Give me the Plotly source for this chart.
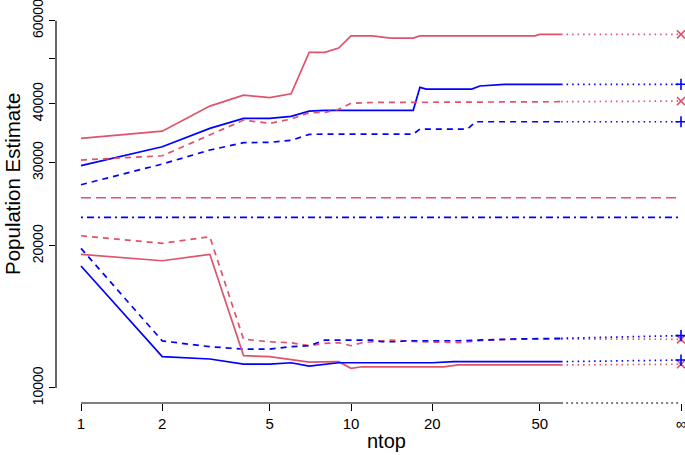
import math
import plotly.graph_objects as go

RED = "#DF536B"
BLUE = "#0000FF"

# ---- data ----
red_solid_hi_x = [1, 2, 3, 4, 5, 6, 7, 8, 9, 10, 12, 14, 17, 18, 48, 50, 60]
red_solid_hi_y = [33800, 35000, 39550, 41700, 41200, 42000, 51400, 51400, 52500, 55700, 55700, 55100, 55100, 55700, 55700, 56100, 56100]

blue_solid_hi_x = [1, 2, 3, 4, 5, 6, 7, 8, 17, 18, 19, 28, 30, 37, 60]
blue_solid_hi_y = [29570, 32440, 35480, 37250, 37250, 37620, 38600, 38740, 38740, 43340, 42980, 42980, 43620, 43980, 43980]

red_dash_hi_x = [1, 2, 3, 4, 5, 6, 7, 8, 9, 10, 12, 60]
red_dash_hi_y = [30400, 31040, 34350, 36940, 36350, 37120, 38290, 38370, 38930, 40090, 40250, 40400]

blue_dash_hi_x = [1, 2, 3, 4, 5, 6, 7, 8, 17, 18, 27, 29, 60]
blue_dash_hi_y = [26950, 29810, 31920, 33080, 33140, 33460, 34450, 34500, 34500, 35360, 35360, 36640, 36640]

red_dash_lo_x = [1, 2, 3, 4, 5, 6, 7, 8, 9, 10, 11, 14, 18, 25, 30, 40, 60]
red_dash_lo_y = [21010, 20250, 20910, 12680, 12530, 12470, 12290, 12430, 12470, 12290, 12470, 12630, 12530, 12480, 12600, 12680, 12700]

blue_dash_lo_x = [1, 2, 3, 4, 5, 6, 7, 8, 12, 13, 15, 16, 25, 40, 60]
blue_dash_lo_y = [19760, 12580, 12230, 12090, 12090, 12230, 12290, 12630, 12630, 12530, 12530, 12590, 12590, 12700, 12740]

blue_solid_lo_x = [1, 2, 3, 4, 5, 6, 7, 9, 20, 24, 60]
blue_solid_lo_y = [18130, 11650, 11520, 11230, 11230, 11310, 11130, 11310, 11310, 11370, 11370]

red_solid_lo_x = [1, 2, 3, 4, 5, 6, 7, 9, 10, 11, 22, 25, 60]
red_solid_lo_y = [19190, 18600, 19190, 11710, 11650, 11500, 11340, 11370, 11010, 11090, 11090, 11190, 11190]

# values at ntop = infinity
inf_red_solid_hi = 56110
inf_blue_solid_hi = 43980
inf_red_dash_hi = 40530
inf_blue_dash_hi = 36640
inf_blue_dash_lo = 12910
inf_red_dash_lo = 12680
inf_blue_solid_lo = 11460
inf_red_solid_lo = 11230

# horizontal reference levels
red_ref_level = 25290
blue_ref_level = 22990

x_tick_vals = [1, 2, 5, 10, 20, 50]
x_tick_text = ["1", "2", "5", "10", "20", "50"]
y_tick_vals = [10000, 20000, 30000, 40000, 50000, 60000]
y_tick_text = ["10000", "20000", "30000", "40000", "", "60000"]

# ---- layout constants ----
INF_X = 10 ** 2.2222      # plotting position of the "infinity" column
X_LAST = 60
FONT = "Liberation Sans, Arial, Helvetica, sans-serif"

DASH = "6px,5px"
LONGDASH = "10px,5px"
DOTDASH = "2px,4px,7px,4px"
DOT = "1.5px,4px"
LW = 1.7

fig = go.Figure()

def add_line(x, y, color, dash):
    fig.add_trace(go.Scatter(x=x, y=y, mode="lines",
                             line=dict(color=color, width=LW, dash=dash),
                             hoverinfo="skip"))

def add_inf(x_last, y_last, y_inf, color, symbol):
    fig.add_trace(go.Scatter(x=[x_last, INF_X], y=[y_last, y_inf], mode="lines",
                             line=dict(color=color, width=LW, dash=DOT),
                             hoverinfo="skip"))
    fig.add_trace(go.Scatter(x=[INF_X], y=[y_inf], mode="markers",
                             marker=dict(symbol=symbol, size=8, color=color,
                                         line=dict(color=color, width=1.6)),
                             cliponaxis=False, hoverinfo="skip"))

# horizontal reference lines
add_line([1, INF_X], [red_ref_level, red_ref_level], RED, LONGDASH)
add_line([1, INF_X], [blue_ref_level, blue_ref_level], BLUE, DOTDASH)

series = [
    (red_solid_hi_x, red_solid_hi_y, inf_red_solid_hi, RED, "solid", "x-thin"),
    (blue_solid_hi_x, blue_solid_hi_y, inf_blue_solid_hi, BLUE, "solid", "cross-thin"),
    (red_dash_hi_x, red_dash_hi_y, inf_red_dash_hi, RED, DASH, "x-thin"),
    (blue_dash_hi_x, blue_dash_hi_y, inf_blue_dash_hi, BLUE, DASH, "cross-thin"),
    (red_dash_lo_x, red_dash_lo_y, inf_red_dash_lo, RED, DASH, "x-thin"),
    (blue_dash_lo_x, blue_dash_lo_y, inf_blue_dash_lo, BLUE, DASH, "cross-thin"),
    (red_solid_lo_x, red_solid_lo_y, inf_red_solid_lo, RED, "solid", "x-thin"),
    (blue_solid_lo_x, blue_solid_lo_y, inf_blue_solid_lo, BLUE, "solid", "cross-thin"),
]
for xs, ys, yinf, col, dash, sym in series:
    add_line(xs, ys, col, dash)
    add_inf(xs[-1], ys[-1], yinf, col, sym)

# axis lines drawn R-style (only across the tick range)
shapes = [
    dict(type="line", xref="paper", yref="y", x0=0, x1=0,
         y0=y_tick_vals[0], y1=y_tick_vals[-1], line=dict(color="black", width=1.2)),
    dict(type="line", xref="x", yref="paper", x0=1, x1=X_LAST, y0=0, y1=0,
         line=dict(color="black", width=1.2)),
    dict(type="line", xref="x", yref="paper", x0=X_LAST, x1=INF_X, y0=0, y1=0,
         line=dict(color="black", width=1.2, dash="2px,3px")),
]

fig.update_layout(
    width=685, height=455,
    margin=dict(l=56, r=0, t=8, b=52, autoexpand=False),
    paper_bgcolor="white", plot_bgcolor="white",
    showlegend=False,
    font=dict(family=FONT, color="black"),
    shapes=shapes,
    xaxis=dict(type="log", range=[-0.0926, 2.237], automargin=False,
               tickvals=x_tick_vals + [INF_X], ticktext=x_tick_text + ["∞"],
               ticks="outside", ticklen=7, tickwidth=1.2, tickcolor="black",
               showline=False, showgrid=False, zeroline=False,
               ticklabeloverflow="allow",
               tickfont=dict(size=15, family=FONT, color="black")),
    yaxis=dict(type="log", range=[3.9682, 4.8049], automargin=False,
               tickvals=y_tick_vals, ticktext=y_tick_text, tickangle=-90,
               ticks="outside", ticklen=6, tickwidth=1.2, tickcolor="black",
               showline=False, showgrid=False, zeroline=False,
               ticklabeloverflow="allow",
               tickfont=dict(size=14, family=FONT, color="black")),
    annotations=[
        dict(text="Population Estimate", xref="paper", yref="paper",
             x=(12 - 56) / 629, y=(403 - 184) / 395, textangle=-90,
             xanchor="center", yanchor="middle", showarrow=False,
             font=dict(size=20.5, family=FONT, color="black")),
        dict(text="ntop", xref="paper", yref="paper",
             x=(386 - 56) / 629, y=(403 - 441) / 395,
             xanchor="center", yanchor="middle", showarrow=False,
             font=dict(size=20, family=FONT, color="black")),
    ],
)

fig.write_html("out.html",
               config={"displayModeBar": False},
               post_script="document.body.style.margin='0';document.body.style.overflow='hidden';")
